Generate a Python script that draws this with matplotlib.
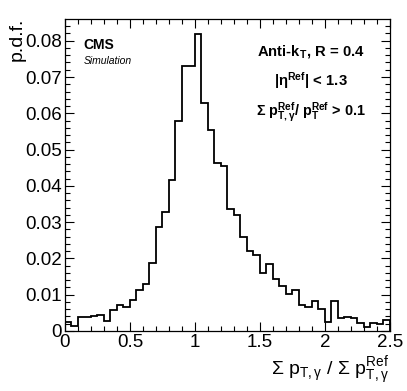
import numpy as np
import matplotlib
matplotlib.use("Agg")
import matplotlib.pyplot as plt
from matplotlib.ticker import MultipleLocator, FormatStrFormatter

plt.rcParams['font.family'] = ['Liberation Sans', 'DejaVu Sans']
plt.rcParams['mathtext.fontset'] = 'custom'
plt.rcParams['mathtext.rm'] = 'Liberation Sans'
plt.rcParams['mathtext.it'] = 'Liberation Sans:italic'
plt.rcParams['mathtext.bf'] = 'Liberation Sans:bold'

# histogram range and per-bin p.d.f. values (50 bins, 0 -> 2.5)
x_min, x_max, n_bins = 0.0, 2.5, 50
pdf = [0.0026, 0.0014, 0.0039, 0.0039, 0.0042, 0.0045, 0.0028, 0.0058, 0.0071, 0.0067,
       0.0086, 0.0112, 0.0130, 0.0188, 0.0286, 0.0328, 0.0415, 0.0580, 0.0729, 0.0729,
       0.0818, 0.0627, 0.0555, 0.0462, 0.0454, 0.0337, 0.0320, 0.0258, 0.0220, 0.0210,
       0.0159, 0.0185, 0.0142, 0.0124, 0.0102, 0.0112, 0.0072, 0.0065, 0.0083, 0.0060,
       0.0026, 0.0083, 0.0037, 0.0039, 0.0036, 0.0023, 0.0011, 0.0023, 0.0019, 0.0029]
edges = np.linspace(x_min, x_max, n_bins + 1)

fig = plt.figure(figsize=(4.07, 3.91), dpi=100)
ax = fig.add_axes([0.1597, 0.1535, 0.958 - 0.1597, 0.9506 - 0.1535])

ax.stairs(pdf, edges, color='black', lw=1.3)

ax.set_xlim(x_min, x_max)
ax.set_ylim(0, 0.0859)

ax.xaxis.set_major_locator(MultipleLocator(0.5))
ax.xaxis.set_minor_locator(MultipleLocator(0.1))
ax.yaxis.set_major_locator(MultipleLocator(0.01))
ax.yaxis.set_minor_locator(MultipleLocator(0.002))
ax.xaxis.set_major_formatter(FormatStrFormatter('%g'))
ax.yaxis.set_major_formatter(FormatStrFormatter('%g'))

ax.tick_params(which='both', direction='in', top=True, right=True, width=0.8, labelsize=13.5)
ax.tick_params(which='major', length=6.5)
ax.tick_params(which='minor', length=3.3)
ax.tick_params(axis='x', pad=2.5)
ax.tick_params(axis='y', pad=2.5)
for s in ax.spines.values():
    s.set_linewidth(0.9)

# axis titles
fig.text(389 / 407, (391 - 375) / 391,
         r'$\Sigma\ \mathrm{p}_{\mathrm{T,\gamma}}\ /\ \Sigma\ \mathrm{p}^{\mathrm{Ref}}_{\mathrm{T,\gamma}}$',
         ha='right', va='baseline', fontsize=14)
fig.text(17 / 407, (391 - 18) / 391, 'p.d.f.', rotation=90, ha='center', va='top', fontsize=14)

# CMS label
ax.text(0.058, 0.905, 'CMS', transform=ax.transAxes, fontsize=10, fontweight='bold', va='baseline')
ax.text(0.058, 0.856, 'Simulation', transform=ax.transAxes, fontsize=7.5, style='italic', va='baseline')

# selection labels
cx = 0.758
ax.text(cx, 0.885, r'Anti-k$_{\mathbf{T}}$, R = 0.4', transform=ax.transAxes,
        fontsize=10.7, fontweight='bold', ha='center', va='baseline')
ax.text(cx, 0.787, r'|η$^{\mathbf{Ref}}$| < 1.3', transform=ax.transAxes,
        fontsize=10.7, fontweight='bold', ha='center', va='baseline')
ax.text(cx, 0.691,
        r'$\mathbf{\Sigma}$ $\mathbf{p}^{\mathbf{Ref}}_{\mathbf{T,\gamma}}$/ $\mathbf{p}^{\mathbf{Ref}}_{\mathbf{T}}$ > 0.1',
        transform=ax.transAxes, fontsize=10.4, fontweight='bold', ha='center', va='baseline')

fig.savefig('out.png', dpi=100)
